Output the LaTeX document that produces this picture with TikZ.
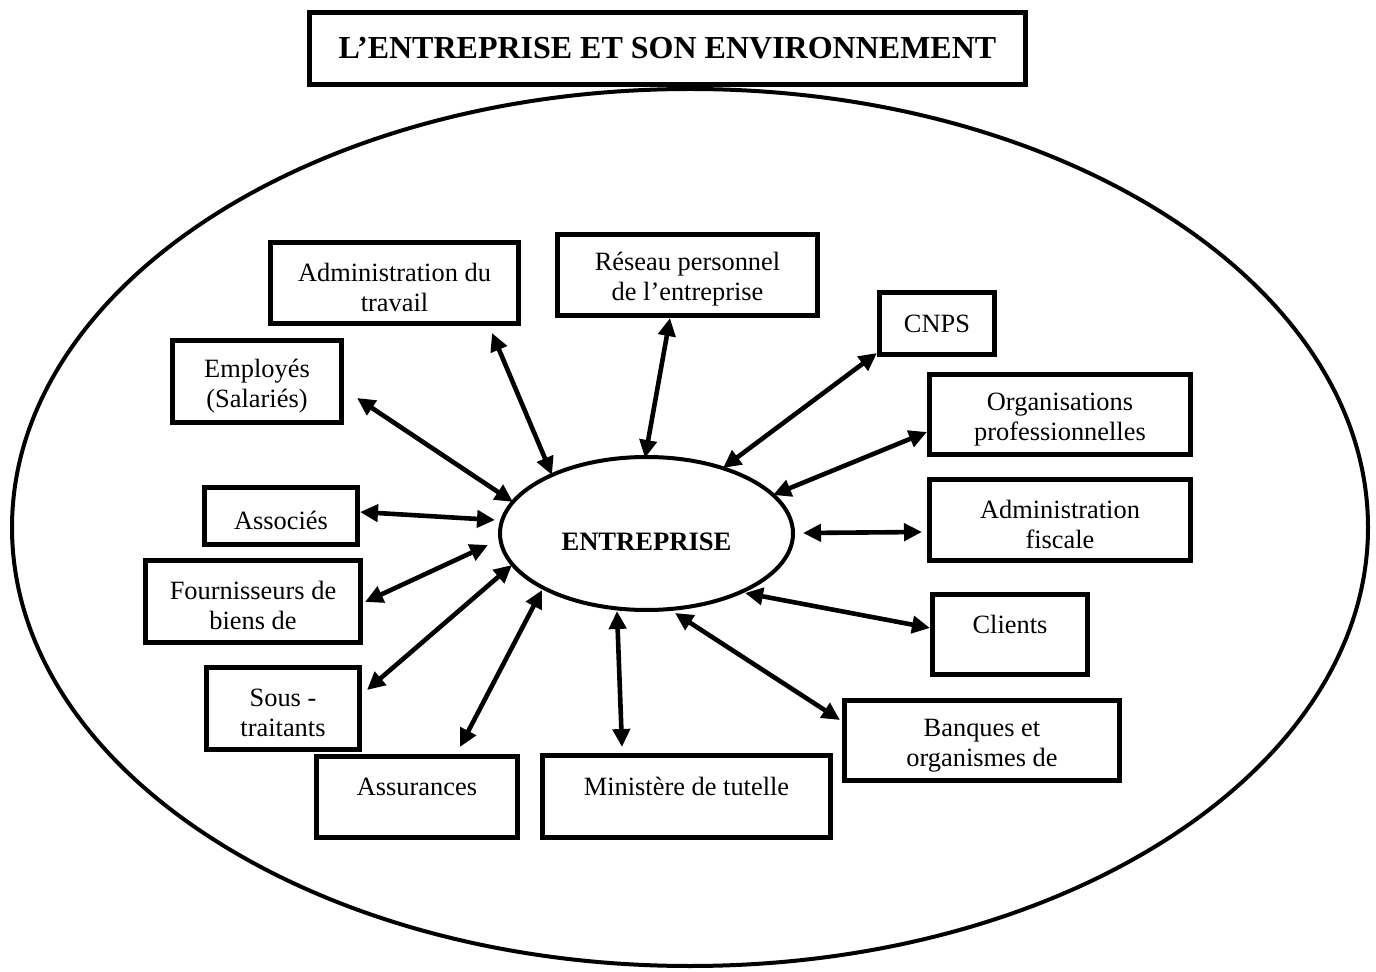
\documentclass[tikz,border=0pt]{standalone}
\usepackage{fontspec}
\setmainfont{Liberation Serif}
\usetikzlibrary{arrows.meta,calc,shapes.geometric}
\newcommand{\tsh}{\rule{0pt}{13.5pt}}
\newcommand{\tshb}{\rule{0pt}{18pt}}
\begin{document}
\begin{tikzpicture}[x=0.5pt,y=-0.5pt,
  box/.style={draw,line width=2.6pt,rectangle,inner sep=0pt,align=center,fill=white,
    font=\fontsize{13.2}{15}\selectfont},
  oval/.style={draw,ellipse,line width=2pt,inner sep=0pt},
  arr/.style={line width=2.3pt,{Triangle[length=9pt,width=8.5pt]}-{Triangle[length=9pt,width=8.5pt]}},
]
\useasboundingbox (0,0) rectangle (1376,972);
% environment
\node[oval,minimum width=678pt,minimum height=438.5pt] (env) at (690,527.5) {};
\node[box,minimum width=358pt,minimum height=36pt,font=\fontsize{16}{19}\selectfont\bfseries] (title) at (667.5,48.5) {L’ENTREPRISE ET SON ENVIRONNEMENT};
% centre
\node[oval,minimum width=146.5pt,minimum height=76.5pt,font=\fontsize{13.3}{16}\selectfont\bfseries,text height=17.3pt,text depth=0pt] (ent) at (646.5,533.5) {ENTREPRISE};
% boxes
\node[box,minimum width=124pt,minimum height=40.5pt] (adm) at (394.5,283) {\tsh Administration du\\travail};
\node[box,minimum width=84.5pt,minimum height=41pt] (emp) at (257,381.5) {\tsh Employés\\(Salariés)};
\node[box,minimum width=130pt,minimum height=40.5pt] (res) at (687.5,275) {\tsh Réseau personnel\\de l’entreprise};
\node[box,minimum width=57.5pt,minimum height=31pt] (cnps) at (937,323.5) {CNPS};
\node[box,minimum width=130.5pt,minimum height=40pt] (org) at (1060,414.5) {\tsh Organisations\\professionnelles};
\node[box,minimum width=130.5pt,minimum height=40.5pt] (fis) at (1060,520) {\tsh Administration\\fiscale};
\node[box,minimum width=77.5pt,minimum height=40pt] (cli) at (1010,634.5) {\tshb Clients\\\strut};
\node[box,minimum width=137.5pt,minimum height=40pt] (ban) at (982,740.5) {\tsh Banques et\\organismes de};
\node[box,minimum width=144pt,minimum height=41pt] (min) at (686.5,796.5) {\tshb Ministère de tutelle\\\strut};
\node[box,minimum width=100.5pt,minimum height=40.5pt] (ass) at (417,797) {\tshb Assurances\\\strut};
\node[box,minimum width=76.5pt,minimum height=41pt] (sous) at (283,708.5) {\tsh Sous -\\traitants};
\node[box,minimum width=107.5pt,minimum height=41pt] (fou) at (253,601.5) {\tsh Fournisseurs de\\biens de};
\node[box,minimum width=76.5pt,minimum height=28.5pt] (asso) at (281,516) {\tsh Associés};
% connectors
\draw[arr] ($(emp.center)+(100,16.5)$) -- ($(ent.center)+(-133.5,-31.5)$);
\draw[arr] ($(adm.center)+(97.5,50)$) -- ($(ent.center)+(-94.5,-58.5)$);
\draw[arr] ($(res.center)+(-17.5,43)$) -- ($(ent.center)+(-1.5,-75.5)$);
\draw[arr] ($(cnps.center)+(-60,29.5)$) -- ($(ent.center)+(76.5,-65.5)$);
\draw[arr] ($(org.center)+(-133,17.5)$) -- ($(ent.center)+(126.5,-38.5)$);
\draw[arr] ($(fis.center)+(-138,12)$) -- ($(ent.center)+(156.5,-0.5)$);
\draw[arr] ($(cli.center)+(-80,-6.5)$) -- ($(ent.center)+(98.5,59.5)$);
\draw[arr] ($(ban.center)+(-142,-20.5)$) -- ($(ent.center)+(28.5,79.5)$);
\draw[arr] ($(min.center)+(-64.5,-49.5)$) -- ($(ent.center)+(-29.5,77.5)$);
\draw[arr] ($(ass.center)+(43,-50)$) -- ($(ent.center)+(-104.5,56.5)$);
\draw[arr] ($(sous.center)+(84,-18.5)$) -- ($(ent.center)+(-134.5,31.5)$);
\draw[arr] ($(fou.center)+(112,0.5)$) -- ($(ent.center)+(-158.5,11.5)$);
\draw[arr] ($(asso.center)+(79,-4)$) -- ($(ent.center)+(-151.5,-13.5)$);
\end{tikzpicture}
\end{document}
